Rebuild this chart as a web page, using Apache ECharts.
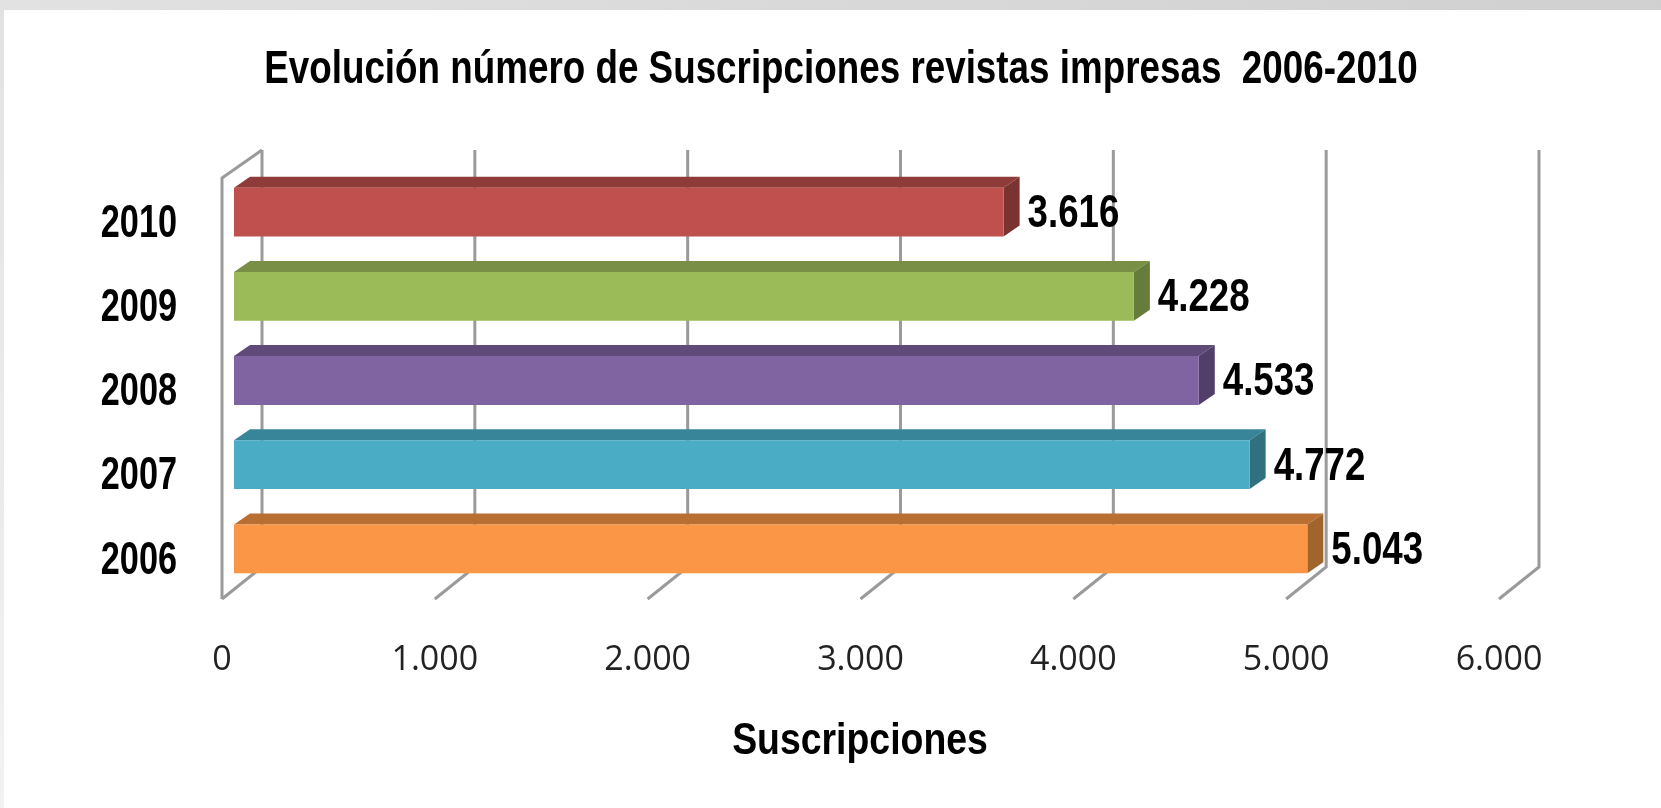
<!DOCTYPE html>
<html>
<head>
<meta charset="utf-8">
<title>Suscripciones</title>
<script src="https://cdn.jsdelivr.net/npm/echarts@6/dist/echarts.min.js"></script>
<style>
    html, body {margin: 0; padding: 0; background: #fff;}
    #chart {width: 1661px; height: 808px;}
</style>
</head>
<body>
<div id="chart"></div>
<script>
// datos
const years = ['2006', '2007', '2008', '2009', '2010']
const subscriptions = [5043, 4772, 4533, 4228, 3616]
const barColors = ['#fa9646', '#4bacc6', '#8064a2', '#9bbb59', '#c0504d']
const barTopColors = ['#b96e32', '#38859a', '#5f4a79', '#788f45', '#8f3b39']
const barSideColors = ['#a0642d', '#30707f', '#523f69', '#667c3b', '#7b3331']
const wallTicks = [0, 1000, 2000, 3000, 4000, 5000, 6000]
const chartTitle = 'Evolución número de Suscripciones revistas impresas  2006-2010'
const axisTitle = 'Suscripciones'

// no hay Arial Narrow instalada: se estrecha Liberation Sans con scaleX
const boldFont = '"Liberation Sans", sans-serif'

// separador de miles con punto, como en el original
const fmt = v => String(v).replace(/\B(?=(\d{3})+$)/g, '.')

const chart = echarts.init(document.getElementById('chart'))

chart.setOption({
    backgroundColor: '#fff',
    animation: false,
    graphic: [
        // franjas grises de arriba y de la izquierda
        {
            type: 'rect', z: -10, shape: {x: 0, y: 0, width: 1661, height: 10},
            style: {fill: new echarts.graphic.LinearGradient(0, 0, 1, 0, [
                {offset: 0, color: '#e2e2e2'},
                {offset: 1, color: '#d0d0d0'}
            ])}
        },
        {
            type: 'rect', z: -10, shape: {x: 0, y: 10, width: 4, height: 798},
            style: {fill: new echarts.graphic.LinearGradient(0, 0, 0, 1, [
                {offset: 0, color: '#e2e2e2'},
                {offset: 1, color: '#f2f2f2'}
            ])}
        },
        {
            type: 'text', x: 841, y: 70, scaleX: 0.8,
            style: {
                text: chartTitle, align: 'center', verticalAlign: 'middle',
                fontFamily: boldFont, fontWeight: 'bold', fontSize: 46, fill: '#000'
            }
        },
        {
            type: 'text', x: 860, y: 742, scaleX: 0.85,
            style: {
                text: axisTitle, align: 'center', verticalAlign: 'middle',
                fontFamily: boldFont, fontWeight: 'bold', fontSize: 44, fill: '#000'
            }
        }
    ],
    grid: {left: 222, top: 178, width: 1277, height: 421},
    xAxis: {
        type: 'value',
        min: 0,
        max: 6000,
        interval: 1000,
        axisLine: {show: false},
        axisTick: {show: false},
        splitLine: {show: false},
        axisLabel: {
            margin: 44,
            fontFamily: '"Open Sans"',
            fontSize: 34,
            color: '#222',
            formatter: fmt
        }
    },
    yAxis: {
        type: 'category',
        data: years,
        axisLine: {show: false},
        axisTick: {show: false},
        // las etiquetas se dibujan abajo para poder estrecharlas
        axisLabel: {show: false}
    },
    series: [
        {
            // paredes del grafico 3D: suelo y linea de fondo por cada tick
            type: 'custom',
            coordinateSystem: 'cartesian2d',
            data: wallTicks.map(t => [t]),
            silent: true,
            z: 1,
            encode: {x: 0},
            renderItem: (params, api) => {
                const x = api.coord([api.value(0), years[0]])[0]
                const lineStyle = {stroke: '#9a9a9a', lineWidth: 3, fill: 'none'}
                const points = [[x, 599], [x + 40, 567], [x + 40, 150]]
                if (api.value(0) === 0) {
                    // esquina izquierda con la pared lateral
                    return {
                        type: 'group',
                        children: [
                            {type: 'polyline', shape: {points}, style: lineStyle},
                            {type: 'polyline', shape: {points: [[x, 599], [x, 178], [x + 40, 150]]}, style: lineStyle}
                        ]
                    }
                }
                return {type: 'polyline', shape: {points}, style: lineStyle}
            }
        },
        {
            // barras con cara frontal, superior y lateral
            type: 'custom',
            coordinateSystem: 'cartesian2d',
            data: subscriptions.map((v, i) => [v, i]),
            z: 2,
            encode: {x: 0, y: 1},
            renderItem: (params, api) => {
                const i = params.dataIndex
                const end = api.coord([api.value(0), api.value(1)])
                const x0 = api.coord([0, api.value(1)])[0] + 12
                const x1 = end[0] + 12
                const h = api.size([0, 1])[1] * 0.58
                const y0 = end[1] - 8 - h / 2
                const y1 = y0 + h
                const dx = 16, dy = 11
                return {
                    type: 'group',
                    children: [
                        {
                            type: 'polygon',
                            shape: {points: [[x0, y0], [x0 + dx, y0 - dy], [x1 + dx, y0 - dy], [x1, y0]]},
                            style: {fill: barTopColors[i]}
                        },
                        {
                            type: 'polygon',
                            shape: {points: [[x1, y0], [x1 + dx, y0 - dy], [x1 + dx, y1 - dy], [x1, y1]]},
                            style: {fill: barSideColors[i]}
                        },
                        {
                            type: 'rect',
                            shape: {x: x0, y: y0, width: x1 - x0, height: h},
                            style: {fill: barColors[i]}
                        },
                        {
                            type: 'text',
                            z2: 10,
                            x: x1 + dx + 8,
                            y: (y0 + y1) / 2 + 2,
                            scaleX: 0.78,
                            style: {
                                text: fmt(api.value(0)),
                                fontFamily: boldFont,
                                fontWeight: 'bold',
                                fontSize: 47,
                                fill: '#000',
                                verticalAlign: 'middle'
                            }
                        },
                        {
                            type: 'text',
                            x: x0 - 57,
                            y: end[1] + 4,
                            scaleX: 0.745,
                            style: {
                                text: years[i],
                                fontFamily: boldFont,
                                fontWeight: 'bold',
                                fontSize: 46,
                                fill: '#000',
                                align: 'right',
                                verticalAlign: 'middle'
                            }
                        }
                    ]
                }
            }
        }
    ]
})
</script>
</body>
</html>
